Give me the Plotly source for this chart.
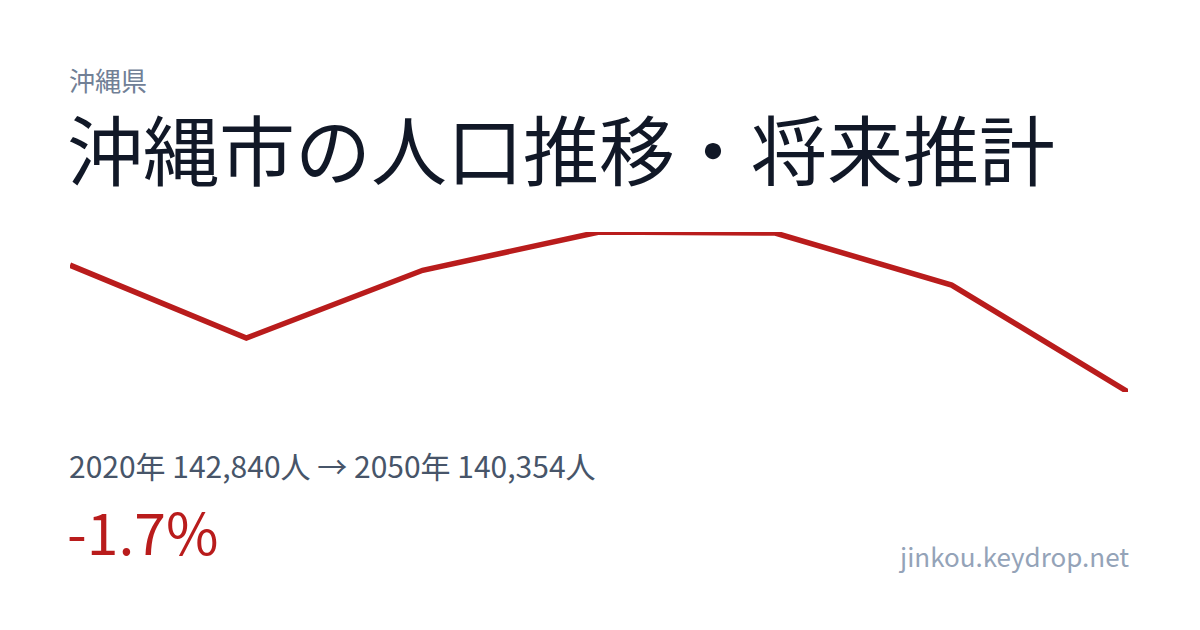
import plotly.graph_objects as go

years = [2020, 2025, 2030, 2035, 2040, 2045, 2050]
population = [142840, 141410, 142740, 143490, 143470, 142450, 140354]

prefecture = "沖縄県"
title = "沖縄市の人口推移・将来推計"
summary = "2020年 142,840人 → 2050年 140,354人"
change = "-1.7%"
site = "jinkou.keydrop.net"

W, H = 1200, 630
OFF = 8  # page margin of the browser
FONT = "Noto Sans CJK JP"

def px(p):
    return (p - OFF) / W

def py(p):
    return 1 - (p - OFF) / H

fig = go.Figure()
fig.add_trace(go.Scatter(
    x=years, y=population, mode="lines",
    line=dict(color="#b91c1c", width=5.5),
    hoverinfo="skip",
))

fig.update_layout(
    width=W, height=H,
    margin=dict(l=0, r=0, t=0, b=0),
    paper_bgcolor="white", plot_bgcolor="white",
    showlegend=False,
    xaxis=dict(domain=[px(70), px(1128)], range=[min(years), max(years)],
               visible=False, fixedrange=True),
    yaxis=dict(domain=[py(392), py(232)], range=[min(population), max(population)],
               visible=False, fixedrange=True),
    font=dict(family=FONT),
)

def ann(text, x, y, size, color, xanchor="left", height=None):
    fig.add_annotation(text=text, x=px(x), y=py(y), xref="paper", yref="paper",
                       xanchor=xanchor, yanchor="middle", showarrow=False,
                       height=height, valign="middle", borderpad=0,
                       font=dict(family=FONT, size=size, color=color))

ann(prefecture, 68, 79, 26, "#718096", height=32)
ann(title, 66, 147, 76, "#111827", height=90)
ann(summary, 68, 465, 30, "#475569")
ann(change, 66, 530, 57, "#b91c1c")
ann(site, 1130, 555, 26, "#94a3b8", xanchor="right")

fig.write_html("out.html")
